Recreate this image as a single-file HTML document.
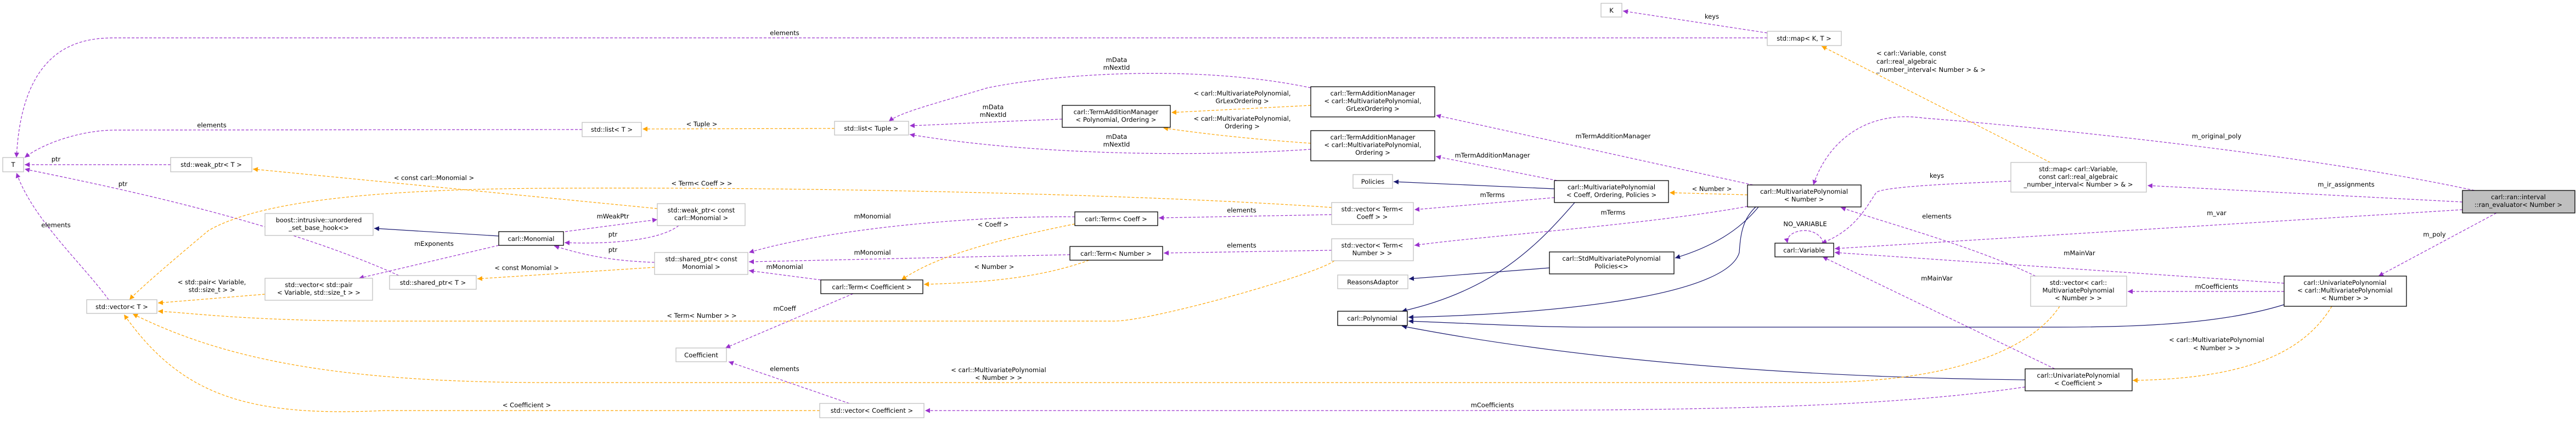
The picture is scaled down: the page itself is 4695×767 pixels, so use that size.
<!DOCTYPE html>
<html><head><meta charset="utf-8"><style>
html,body{margin:0;padding:0;background:#fff;}
svg{display:block;}
text{font-family:"DejaVu Sans","Liberation Sans",sans-serif;font-size:11.5px;fill:#000;}
.g{fill:#fff;stroke:#bfbfbf;stroke-width:1.3;}
.b{fill:#fff;stroke:#000;stroke-width:1.3;}
.p{fill:none;stroke:#9a32cd;stroke-width:1.2;stroke-dasharray:5,3;}
.o{fill:none;stroke:#ffa500;stroke-width:1.2;stroke-dasharray:5,3;}
.n{fill:none;stroke:#191970;stroke-width:1.2;}
</style></head><body>
<svg width="4695" height="767" viewBox="0 0 4695 767" xmlns="http://www.w3.org/2000/svg">
<defs>
<marker id="mp" viewBox="0 0 10 10" refX="10" refY="5" markerWidth="9" markerHeight="9" orient="auto" markerUnits="userSpaceOnUse"><path d="M0,0 L10,5 L0,10 z" fill="#9a32cd"/></marker>
<marker id="mo" viewBox="0 0 10 10" refX="10" refY="5" markerWidth="9" markerHeight="9" orient="auto" markerUnits="userSpaceOnUse"><path d="M0,0 L10,5 L0,10 z" fill="#ffa500"/></marker>
<marker id="mn" viewBox="0 0 10 10" refX="10" refY="5" markerWidth="9" markerHeight="9" orient="auto" markerUnits="userSpaceOnUse"><path d="M0,0 L10,5 L0,10 z" fill="#191970"/></marker>
</defs>

<!-- edges -->
<g>
<path class="p" marker-end="url(#mp)" d="M3221,69 L210,69 C150,69 40,80 30,287"/>
<path class="p" marker-end="url(#mp)" d="M3221,60 L2958,20"/>
<path class="p" marker-end="url(#mp)" d="M1061,236 L210,237 C150,237 80,260 45,287"/>
<path class="p" marker-end="url(#mp)" d="M311,300 L45,300"/>
<path class="p" marker-end="url(#mp)" d="M727,502 C500,400 200,340 45,308"/>
<path class="p" marker-end="url(#mp)" d="M198,546 C150,480 60,400 30,315"/>
<path class="o" marker-end="url(#mo)" d="M1521,234 L1171,235"/>
<path class="p" marker-end="url(#mp)" d="M1936,217 C1800,222 1700,228 1658,229"/>
<path class="p" marker-end="url(#mp)" d="M2389,160 C2200,120 1950,130 1800,160 C1700,190 1640,205 1620,221"/>
<path class="p" marker-end="url(#mp)" d="M2389,272 C2200,285 1900,285 1658,245"/>
<path class="o" marker-end="url(#mo)" d="M2389,192 L2135,205"/>
<path class="o" marker-end="url(#mo)" d="M2389,261 C2300,255 2200,245 2120,233"/>
<path class="p" marker-end="url(#mp)" d="M2838,329 L2617,285"/>
<path class="p" marker-end="url(#mp)" d="M3195,337 L2617,210"/>
<path class="n" marker-end="url(#mn)" d="M2833,344 L2540,331"/>
<path class="p" marker-end="url(#mp)" d="M2833,360 L2578,382"/>
<path class="p" marker-end="url(#mp)" d="M3185,376 C3000,410 2700,430 2578,447"/>
<path class="o" marker-end="url(#mo)" d="M3185,355 L3043,351"/>
<path class="p" marker-end="url(#mp)" d="M2427,391 L2112,397"/>
<path class="p" marker-end="url(#mp)" d="M2427,456 L2121,461"/>
<path class="o" marker-end="url(#mo)" d="M2427,378 C2100,355 1500,340 1000,343 C600,345 450,380 380,420 C320,470 250,530 236,546"/>
<path class="n" marker-end="url(#mn)" d="M2824,488 L2568,508"/>
<path class="n" marker-end="url(#mn)" d="M3205,377 C3170,420 3120,450 3053,470"/>
<path class="n" marker-end="url(#mn)" d="M3200,377 C3175,400 3172,430 3170,460 C3150,530 2900,570 2567,578"/>
<path class="n" marker-end="url(#mn)" d="M2870,369 C2800,450 2720,530 2555,567"/>
<path class="n" marker-end="url(#mn)" d="M4163,555 C4050,590 3900,596 3750,596 L2900,596 C2800,596 2700,590 2567,585"/>
<path class="n" marker-end="url(#mn)" d="M3691,692 C3500,690 3000,680 2555,594"/>
<path class="o" marker-end="url(#mo)" d="M3737,296 L3320,84"/>
<path class="p" marker-end="url(#mp)" d="M3665,330 C3550,335 3440,340 3420,350 C3400,380 3380,420 3320,443"/>
<path class="p" marker-end="url(#mp)" d="M3710,503 C3600,450 3450,410 3355,378"/>
<path class="p" marker-end="url(#mp)" d="M3322,443 C3322,430 3305,420 3290,420 C3270,420 3255,430 3258,443"/>
<path class="p" marker-end="url(#mp)" d="M4488,368 L3914,338"/>
<path class="p" marker-end="url(#mp)" d="M4488,382 L3344,453"/>
<path class="p" marker-end="url(#mp)" d="M4163,516 L3344,460"/>
<path class="p" marker-end="url(#mp)" d="M3745,672 L3322,468"/>
<path class="p" marker-end="url(#mp)" d="M4163,531 L3878,531"/>
<path class="p" marker-end="url(#mp)" d="M4550,388 L4335,503"/>
<path class="o" marker-end="url(#mo)" d="M4250,558 C4200,640 4100,690 3887,693"/>
<path class="o" marker-end="url(#mo)" d="M3754,558 C3700,640 3550,697 3300,697 L1000,697 C600,697 400,650 242,572"/>
<path class="p" marker-end="url(#mp)" d="M4510,347 C4200,280 3700,230 3505,215 C3400,200 3330,260 3305,337"/>
<path class="p" marker-end="url(#mp)" d="M3691,705 C3400,748 3000,748 2500,748 L1686,748"/>
<path class="o" marker-end="url(#mo)" d="M1494,748 L700,748 C450,760 330,720 226,573"/>
<path class="p" marker-end="url(#mp)" d="M1548,735 L1328,659"/>
<path class="p" marker-end="url(#mp)" d="M1555,535 L1322,634"/>
<path class="p" marker-end="url(#mp)" d="M1496,510 L1365,493"/>
<path class="p" marker-end="url(#mp)" d="M1950,464 L1365,477"/>
<path class="p" marker-end="url(#mp)" d="M1959,395 C1750,393 1500,420 1365,460"/>
<path class="o" marker-end="url(#mo)" d="M1959,408 C1800,440 1700,470 1643,510"/>
<path class="o" marker-end="url(#mo)" d="M1985,474 C1900,505 1800,515 1684,518"/>
<path class="o" marker-end="url(#mo)" d="M2432,475 C2400,500 2100,585 2030,585 L700,585 C450,585 350,570 288,567"/>
<path class="o" marker-end="url(#mo)" d="M1193,487 L870,508"/>
<path class="o" marker-end="url(#mo)" d="M1198,380 L461,308"/>
<path class="n" marker-end="url(#mn)" d="M909,430 L682,416"/>
<path class="p" marker-end="url(#mp)" d="M909,447 L654,507"/>
<path class="o" marker-end="url(#mo)" d="M483,536 L288,552"/>
<path class="p" marker-end="url(#mp)" d="M1030,422 L1198,400"/>
<path class="p" marker-end="url(#mp)" d="M1237,411 C1200,440 1100,445 1029,442"/>
<path class="p" marker-end="url(#mp)" d="M1193,478 C1100,475 1050,460 1010,448"/>
</g>

<!-- edge labels -->
<g text-anchor="middle">
<text x="1430" y="64">elements</text>
<text x="3120" y="34">keys</text>
<text x="386" y="232">elements</text>
<text x="102" y="294">ptr</text>
<text x="224" y="339">ptr</text>
<text x="102" y="414">elements</text>
<text x="1279" y="230">&lt; Tuple &gt;</text>
<text x="1810" y="199">mData</text><text x="1810" y="213">mNextId</text>
<text x="2035" y="113">mData</text><text x="2035" y="127">mNextId</text>
<text x="2035" y="253">mData</text><text x="2035" y="267">mNextId</text>
<text x="2264" y="174">&lt; carl::MultivariatePolynomial,</text><text x="2264" y="188">GrLexOrdering &gt;</text>
<text x="2264" y="220">&lt; carl::MultivariatePolynomial,</text><text x="2264" y="234">Ordering &gt;</text>
<text x="2720" y="287">mTermAdditionManager</text>
<text x="2940" y="252">mTermAdditionManager</text>
<text x="2720" y="359">mTerms</text>
<text x="2940" y="391">mTerms</text>
<text x="3120" y="348">&lt; Number &gt;</text>
<text x="2263" y="387">elements</text>
<text x="2263" y="451">elements</text>
<text x="1279" y="338">&lt; Term&lt; Coeff &gt; &gt;</text>
<text x="3530" y="324">keys</text>
<text x="3530" y="398">elements</text>
<text x="3290" y="412">NO_VARIABLE</text>
<text x="4276" y="340">m_ir_assignments</text>
<text x="4040" y="392">m_var</text>
<text x="3790" y="465">mMainVar</text>
<text x="3530" y="511">mMainVar</text>
<text x="4040" y="526">mCoefficients</text>
<text x="4437" y="431">m_poly</text>
<text x="4040" y="623">&lt; carl::MultivariatePolynomial</text><text x="4040" y="638">&lt; Number &gt; &gt;</text>
<text x="1820" y="678">&lt; carl::MultivariatePolynomial</text><text x="1820" y="692">&lt; Number &gt; &gt;</text>
<text x="4040" y="252">m_original_poly</text>
<text x="2720" y="742">mCoefficients</text>
<text x="960" y="742">&lt; Coefficient &gt;</text>
<text x="1430" y="676">elements</text>
<text x="1430" y="566">mCoeff</text>
<text x="1430" y="490">mMonomial</text>
<text x="1590" y="464">mMonomial</text>
<text x="1590" y="398">mMonomial</text>
<text x="1810" y="413">&lt; Coeff &gt;</text>
<text x="1812" y="490">&lt; Number &gt;</text>
<text x="1279" y="579">&lt; Term&lt; Number &gt; &gt;</text>
<text x="960" y="492">&lt; const Monomial &gt;</text>
<text x="791" y="328">&lt; const carl::Monomial &gt;</text>
<text x="791" y="448">mExponents</text>
<text x="386" y="518">&lt; std::pair&lt; Variable,</text><text x="386" y="532">std::size_t &gt; &gt;</text>
<text x="1117" y="398">mWeakPtr</text>
<text x="1117" y="431">ptr</text>
<text x="1117" y="459">ptr</text>
</g>
<g text-anchor="start">
<text x="3420" y="101">&lt; carl::Variable, const</text>
<text x="3420" y="116">carl::real_algebraic</text>
<text x="3420" y="131">_number_interval&lt; Number &gt; &amp; &gt;</text>
</g>

<!-- nodes -->
<g text-anchor="middle">
<rect class="g" x="5" y="287" width="38" height="26"/><text x="24" y="304">T</text>
<rect class="g" x="311" y="287" width="148" height="26"/><text x="385" y="304">std::weak_ptr&lt; T &gt;</text>
<rect class="g" x="483" y="389" width="197" height="40"/><text x="581" y="405">boost::intrusive::unordered</text><text x="581" y="419">_set_base_hook&lt;&gt;</text>
<rect class="b" x="909" y="422" width="118" height="25"/><text x="968" y="439">carl::Monomial</text>
<rect class="g" x="483" y="507" width="196" height="40"/><text x="581" y="523">std::vector&lt; std::pair</text><text x="581" y="537">&lt; Variable, std::size_t &gt; &gt;</text>
<rect class="g" x="710" y="502" width="158" height="25"/><text x="789" y="519">std::shared_ptr&lt; T &gt;</text>
<rect class="g" x="158" y="546" width="128" height="25"/><text x="222" y="563">std::vector&lt; T &gt;</text>
<rect class="g" x="1198" y="371" width="160" height="40"/><text x="1278" y="387">std::weak_ptr&lt; const</text><text x="1278" y="401">carl::Monomial &gt;</text>
<rect class="g" x="1193" y="460" width="170" height="40"/><text x="1278" y="476">std::shared_ptr&lt; const</text><text x="1278" y="490">Monomial &gt;</text>
<rect class="b" x="1496" y="510" width="186" height="25"/><text x="1589" y="527">carl::Term&lt; Coefficient &gt;</text>
<rect class="g" x="1232" y="634" width="92" height="25"/><text x="1278" y="651">Coefficient</text>
<rect class="g" x="1494" y="735" width="190" height="26"/><text x="1589" y="752">std::vector&lt; Coefficient &gt;</text>
<rect class="g" x="1061" y="223" width="108" height="26"/><text x="1115" y="240">std::list&lt; T &gt;</text>
<rect class="g" x="1521" y="221" width="135" height="25"/><text x="1588" y="238">std::list&lt; Tuple &gt;</text>
<rect class="b" x="1959" y="386" width="151" height="25"/><text x="2034" y="403">carl::Term&lt; Coeff &gt;</text>
<rect class="b" x="1950" y="449" width="169" height="25"/><text x="2034" y="466">carl::Term&lt; Number &gt;</text>
<rect class="b" x="1936" y="192" width="197" height="40"/><text x="2034" y="208">carl::TermAdditionManager</text><text x="2034" y="222">&lt; Polynomial, Ordering &gt;</text>
<rect class="b" x="2389" y="158" width="226" height="55"/><text x="2502" y="174">carl::TermAdditionManager</text><text x="2502" y="188">&lt; carl::MultivariatePolynomial,</text><text x="2502" y="202">GrLexOrdering &gt;</text>
<rect class="b" x="2389" y="238" width="226" height="55"/><text x="2502" y="254">carl::TermAdditionManager</text><text x="2502" y="268">&lt; carl::MultivariatePolynomial,</text><text x="2502" y="282">Ordering &gt;</text>
<rect class="g" x="2466" y="318" width="72" height="25"/><text x="2502" y="335">Policies</text>
<rect class="g" x="2427" y="369" width="149" height="40"/><text x="2501" y="385">std::vector&lt; Term&lt;</text><text x="2501" y="399">Coeff &gt; &gt;</text>
<rect class="g" x="2427" y="435" width="149" height="40"/><text x="2501" y="451">std::vector&lt; Term&lt;</text><text x="2501" y="465">Number &gt; &gt;</text>
<rect class="g" x="2438" y="501" width="128" height="25"/><text x="2502" y="518">ReasonsAdaptor</text>
<rect class="b" x="2438" y="567" width="127" height="26"/><text x="2501" y="584">carl::Polynomial</text>
<rect class="g" x="2918" y="6" width="38" height="25"/><text x="2937" y="23">K</text>
<rect class="g" x="3221" y="57" width="135" height="26"/><text x="3288" y="74">std::map&lt; K, T &gt;</text>
<rect class="b" x="2833" y="329" width="208" height="40"/><text x="2937" y="345">carl::MultivariatePolynomial</text><text x="2937" y="359">&lt; Coeff, Ordering, Policies &gt;</text>
<rect class="b" x="3185" y="337" width="207" height="40"/><text x="3288" y="353">carl::MultivariatePolynomial</text><text x="3288" y="367">&lt; Number &gt;</text>
<rect class="b" x="2824" y="459" width="227" height="40"/><text x="2937" y="475">carl::StdMultivariatePolynomial</text><text x="2937" y="489">Policies&lt;&gt;</text>
<rect class="b" x="3235" y="443" width="107" height="25"/><text x="3288" y="460">carl::Variable</text>
<rect class="g" x="3665" y="296" width="247" height="54"/><text x="3788" y="312">std::map&lt; carl::Variable,</text><text x="3788" y="326">const carl::real_algebraic</text><text x="3788" y="340">_number_interval&lt; Number &gt; &amp; &gt;</text>
<rect x="4488" y="347" width="205" height="41" fill="#bfbfbf" stroke="#000" stroke-width="1.3"/><text x="4590" y="363">carl::ran::interval</text><text x="4590" y="377">::ran_evaluator&lt; Number &gt;</text>
<rect class="g" x="3701" y="503" width="175" height="55"/><text x="3788" y="519">std::vector&lt; carl::</text><text x="3788" y="533">MultivariatePolynomial</text><text x="3788" y="547">&lt; Number &gt; &gt;</text>
<rect class="b" x="4163" y="503" width="223" height="55"/><text x="4274" y="519">carl::UnivariatePolynomial</text><text x="4274" y="533">&lt; carl::MultivariatePolynomial</text><text x="4274" y="547">&lt; Number &gt; &gt;</text>
<rect class="b" x="3691" y="672" width="195" height="40"/><text x="3788" y="688">carl::UnivariatePolynomial</text><text x="3788" y="702">&lt; Coefficient &gt;</text>
</g>
</svg>
</body></html>
